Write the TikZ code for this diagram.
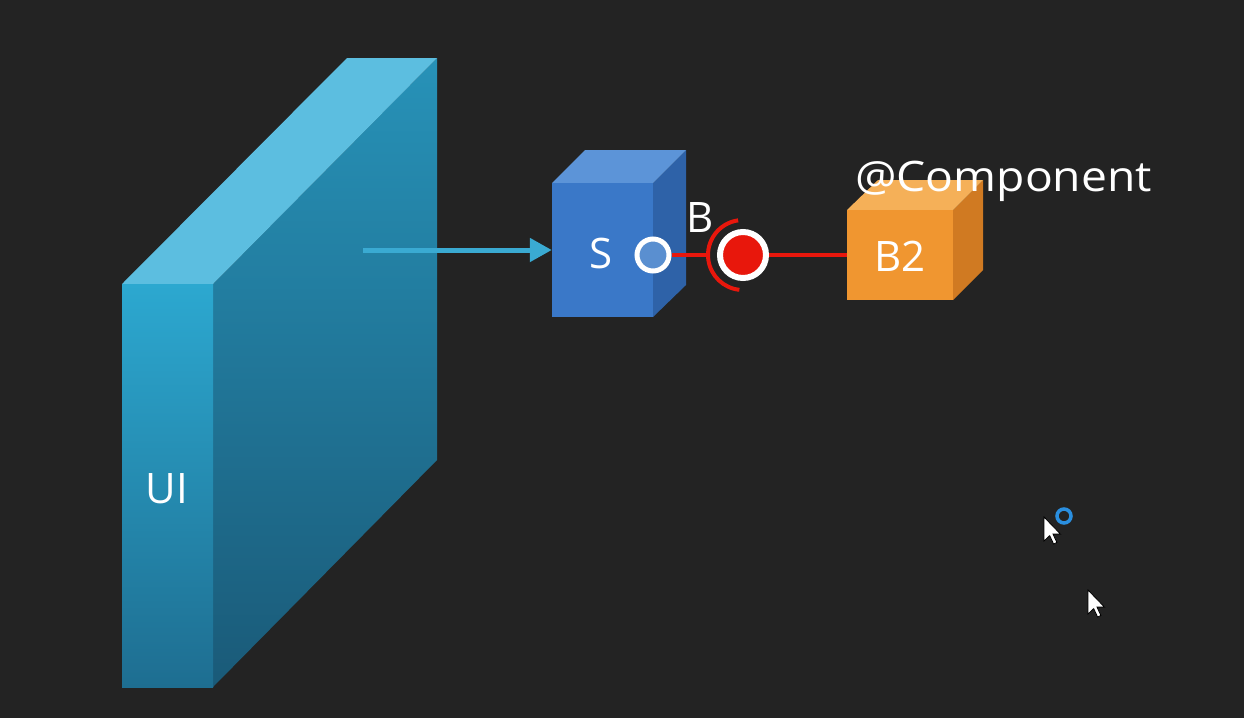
\documentclass[tikz,border=0pt]{standalone}
\usepackage{fontspec}
\usepackage{graphicx}
\setmainfont{Open Sans}
\usetikzlibrary{calc,arrows.meta}
\definecolor{bg}{HTML}{232323}
\definecolor{redc}{HTML}{E8170C}
\definecolor{arrowc}{HTML}{3AAAD2}
\definecolor{uiside1}{RGB}{39,146,184}
\definecolor{uiside2}{RGB}{26,90,120}
\definecolor{uitop}{RGB}{92,190,224}
\definecolor{uifront1}{RGB}{44,168,208}
\definecolor{uifront2}{RGB}{30,110,145}
\definecolor{sside}{RGB}{46,98,168}
\definecolor{stop}{RGB}{92,148,216}
\definecolor{sfront}{RGB}{58,120,200}
\definecolor{bside}{RGB}{208,122,34}
\definecolor{btop}{RGB}{245,176,88}
\definecolor{bfront}{RGB}{240,150,48}
\definecolor{portc}{RGB}{90,143,208}
\definecolor{ringc}{RGB}{42,143,224}
\begin{document}
\begin{tikzpicture}[x=1pt,y=-1pt,
  lbl/.style={text=white,font=\fontsize{42}{42}\selectfont,inner sep=0pt},
  redline/.style={draw=redc,line width=4pt},
  face/.style={draw=none}]
\useasboundingbox (0,0) rectangle (1244,718);
\fill[bg] (0,0) rectangle (1244,718);
% ---- UI slab ----
\shade[top color=uiside1,bottom color=uiside2]
  (213,284) -- (437,58) -- (437,460) -- (213,687) -- cycle;
\fill[uitop] (122,284) -- (347,58) -- (437,58) -- (213,284) -- cycle;
\shade[top color=uifront1,bottom color=uifront2]
  (122,284) rectangle (213,687);
\node[lbl] (ui) at (167,489) {UI};
% ---- S cube ----
\fill[sside] (653,183) -- (686,150) -- (686,285) -- (653,317) -- cycle;
\fill[stop] (552,183) -- (585,150) -- (686,150) -- (653,183) -- cycle;
\node[face,fill=sfront,minimum width=101pt,minimum height=134pt,inner sep=0pt] (S) at (602.5,250) {};
\node[lbl] (stxt) at (601,253) {S};
% ---- arrow ----
\coordinate (astart) at (363,250);
\draw[arrowc,line width=5pt,-{Triangle[length=22pt,width=23pt]}] (astart) -- (S.west);
% ---- B2 cube ----
\fill[bside] (953,210) -- (983,180) -- (983,270) -- (953,300) -- cycle;
\fill[btop] (847,210) -- (878,180) -- (983,180) -- (953,210) -- cycle;
\node[face,fill=bfront,minimum width=106pt,minimum height=90pt,inner sep=0pt] (B2) at (900,255) {};
\node[lbl] (b2txt) at (900,256) {B2};
% ---- port / socket / ball ----
\node[circle,draw=white,line width=5pt,fill=portc,minimum size=32pt,inner sep=0pt] (port) at (653,255) {};
\node[circle,draw=white,line width=6pt,fill=redc,minimum size=46pt,inner sep=0pt] (ball) at (743,255) {};
\coordinate (sock) at ($(ball.center)+(-35,0)$);
\draw[redline] (port.east) -- (sock);
\draw[redline] (ball.east) -- (B2.west);
\draw[draw=redc,line width=4pt] (ball.center) ++(-98:35) arc[start angle=-98,end angle=-264,radius=35];
\node[lbl] (btxt) at (700,218) {B};
\node[lbl,anchor=west] (comp) at (855,181) {\scalebox{1.1}[1]{@Component}};
% ---- cursors ----
\node[circle,draw=ringc,line width=3.5pt,minimum size=14pt,inner sep=0pt] (ring) at (1064,516) {};
\foreach \n/\tx/\ty in {c1/1044/517,c2/1088/590}{
  \coordinate (\n) at (\tx,\ty);
  \filldraw[fill=white,draw=black,line width=0.8pt,shift={(\n)},scale=1.5]
    (0,0) -- (0,16) -- (3.8,12.4) -- (6.4,18) -- (8.6,17) -- (6,11.4) -- (11,11.4) -- cycle;
}
\end{tikzpicture}
\end{document}
